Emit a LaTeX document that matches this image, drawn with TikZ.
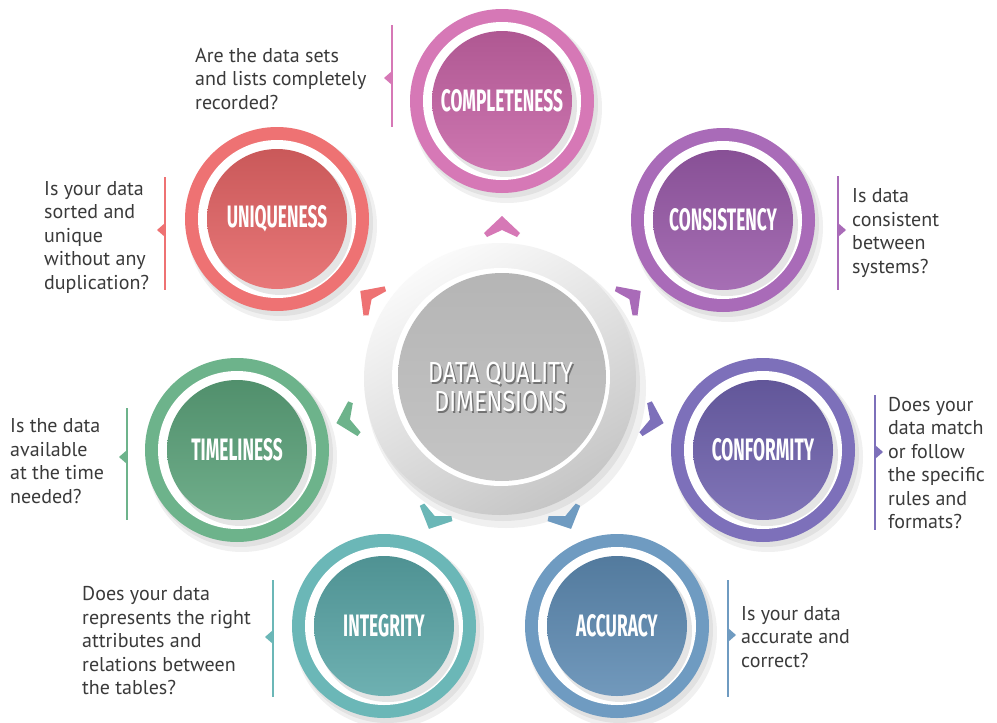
\documentclass[tikz,border=0pt]{standalone}
\usepackage{fontspec}
\setmainfont{PT Sans}
\newfontfamily\titlefont{Fira Sans}
\usetikzlibrary{shadings}

\definecolor{txtgray}{HTML}{3A3A3A}
\definecolor{pinkR}{HTML}{D678B6}\definecolor{pinkD}{HTML}{C764A6}
\definecolor{purpR}{HTML}{A96BB8}\definecolor{purpD}{HTML}{9A5BAA}
\definecolor{violR}{HTML}{7D70BA}\definecolor{violD}{HTML}{6F62AE}
\definecolor{blueR}{HTML}{6F9BC1}\definecolor{blueD}{HTML}{5E8BB3}
\definecolor{tealR}{HTML}{6BB7B7}\definecolor{tealD}{HTML}{5AA6A7}
\definecolor{grenR}{HTML}{6DB38B}\definecolor{grenD}{HTML}{5CA37B}
\definecolor{redR}{HTML}{EE7273}\definecolor{redD}{HTML}{E56566}

\tikzset{
  x=1pt, y=-1pt,
  ringshape/.style={circle, inner sep=0pt, minimum size=184pt},
  gapshape/.style={circle, inner sep=0pt, minimum size=158pt, fill=white},
  discshape/.style={circle, inner sep=0pt, minimum size=140pt, text=white,
    font=\titlefont\bfseries\fontsize{31}{31}\selectfont},
  bodytext/.style={anchor=west, align=left, inner sep=0pt, text=txtgray,
    font=\fontsize{20}{23.5}\selectfont},
  barline/.style={line width=2.6pt},
}

% name, x, y, ring colour, disc colour, label
\newcommand\dqcircle[6]{%
  \fill[black, opacity=0.06] (#2+5,#3+7) circle[radius=95pt];
  \fill[black, opacity=0.06] (#2+3,#3+4) circle[radius=93pt];
  \node[ringshape, fill=#4] (#1-ring) at (#2,#3) {};
  \node[gapshape] (#1-gap) at (#2,#3) {};
  \fill[black, opacity=0.10] (#2+4,#3+5) circle[radius=71pt];
  \node[discshape, top color=#5!88!black, bottom color=#5!88!white] (#1) at (#2,#3)
    {\scalebox{0.56}[1]{#6}};
}
% chevron: x, y, angle, colour
\newcommand\dqchev[4]{%
  \fill[#4, shift={(#1,#2)}, rotate=#3]
    (12,0) -- (-5,18) -- (-9,15) -- (-2,0) -- (-9,-15) -- (-5,-18) -- cycle;
}
% bar: x, y1, y2, ytriangle, direction(+1 right / -1 left), colour
\newcommand\dqbar[6]{%
  \draw[barline, #6] (#1,#2) -- (#1,#3);
  \fill[#6] (#1,#4-7) -- (#1+#5*8,#4) -- (#1,#4+7) -- cycle;
}

\begin{document}
\begin{tikzpicture}
\useasboundingbox (0,0) rectangle (997,723);
\fill[white] (0,0) rectangle (997,723);

% centre
\fill[black, opacity=0.06] (506,388) circle[radius=140pt];
\fill[black, opacity=0.06] (503,384) circle[radius=137pt];
\node[circle, inner sep=0pt, minimum size=272pt, shading=axis,
      top color=white!96!gray, bottom color=gray!45, shading angle=30] (center-ring) at (500,379) {};
\node[circle, inner sep=0pt, minimum size=218pt, fill=white] (center-gap) at (501,377) {};
\node[circle, inner sep=0pt, minimum size=208pt, top color=gray!58, bottom color=gray!46] (center) at (502,377) {};
\node[text=black!55, align=center, font=\titlefont\fontsize{29}{29}\selectfont] (center-shadow) at (502,389)
  {\scalebox{0.8}[1]{DATA QUALITY}\\\scalebox{0.8}[1]{DIMENSIONS}};
\node[text=white, align=center, font=\titlefont\fontsize{29}{29}\selectfont] (center-label) at (500.5,387.5)
  {\scalebox{0.8}[1]{DATA QUALITY}\\\scalebox{0.8}[1]{DIMENSIONS}};

% dimension circles
\dqcircle{compl}{502}{101}{pinkR}{pinkD}{COMPLETENESS}
\dqcircle{consi}{723}{220}{purpR}{purpD}{CONSISTENCY}
\dqcircle{confo}{763}{450}{violR}{violD}{CONFORMITY}
\dqcircle{accur}{617}{626}{blueR}{blueD}{ACCURACY}
\dqcircle{integ}{384}{626}{tealR}{tealD}{INTEGRITY}
\dqcircle{timel}{237}{450}{grenR}{grenD}{TIMELINESS}
\dqcircle{uniqu}{277}{219}{redR}{redD}{UNIQUENESS}

% chevrons
\dqchev{502}{228}{90}{pinkR}
\dqchev{631}{298}{36}{purpR}
\dqchev{652}{420}{-15}{violR}
\dqchev{566}{518}{-65}{blueR}
\dqchev{434}{518}{-115}{tealR}
\dqchev{348}{420}{195}{grenR}
\dqchev{370}{298}{144}{redR}

% bars with pointers
\dqbar{392}{25}{127}{78}{-1}{pinkR}
\dqbar{838}{176}{290}{230}{1}{purpR}
\dqbar{875}{395}{530}{452}{1}{violR}
\dqbar{728}{580}{697}{635}{1}{blueR}
\dqbar{273}{580}{697}{637}{-1}{tealR}
\dqbar{127}{408}{520}{457}{-1}{grenR}
\dqbar{165}{177}{290}{230}{-1}{redR}

% texts
\node[bodytext] (t-compl) at (195,79) {Are the data sets\\and lists completely\\recorded?};
\node[bodytext] (t-consi) at (852,233) {Is data\\consistent\\between\\systems?};
\node[bodytext] (t-confo) at (888,463) {Does your\\data match\\or follow\\the specific\\rules and\\formats?};
\node[bodytext] (t-accur) at (741,637) {Is your data\\accurate and\\correct?};
\node[bodytext] (t-integ) at (82,641) {Does your data\\represents the right\\attributes and\\relations between\\the tables?};
\node[bodytext] (t-timel) at (10,461) {Is the data\\available\\at the time\\needed?};
\node[bodytext] (t-uniqu) at (44,237) {Is your data\\sorted and\\unique\\without any\\duplication?};
\end{tikzpicture}
\end{document}
